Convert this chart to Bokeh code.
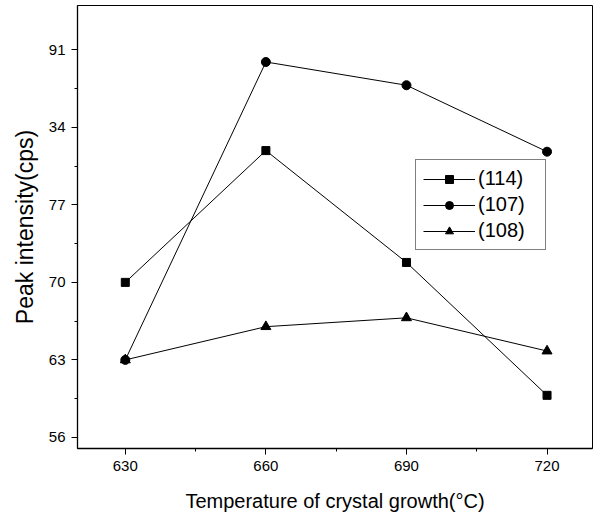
from bokeh.plotting import figure
from bokeh.models import FixedTicker, Range1d, Legend, LegendItem
from bokeh.embed import file_html
from bokeh.resources import INLINE

# Growth temperatures (deg C) and peak intensities for three reflections
temperature = [630, 660, 690, 720]
peak_114 = [70.0, 81.9, 71.8, 59.8]
peak_107 = [63.0, 89.9, 87.8, 81.8]
peak_108 = [63.0, 66.0, 66.8, 63.8]

x_ticks = [630, 660, 690, 720]
x_minor = [645, 675, 705]
y_ticks = [56, 63, 70, 77, 84, 91]
y_minor = [59.5, 66.5, 73.5, 80.5, 87.5]
y_tick_labels = {56: "56", 63: "63", 70: "70", 77: "77", 84: "34", 91: "91"}

FONT = "Liberation Sans"

p = figure(width=593, height=516, output_backend="svg", toolbar_location=None,
           x_range=Range1d(619.8, 729.7), y_range=Range1d(55, 95),
           min_border_left=77, min_border_right=1, min_border_top=5,
           min_border_bottom=68)

p.background_fill_color = "white"
p.border_fill_color = "white"
p.outline_line_color = "black"
p.outline_line_width = 1
p.xgrid.visible = False
p.ygrid.visible = False

for ax in (p.xaxis[0], p.yaxis[0]):
    ax.axis_line_color = "black"
    ax.axis_line_width = 1.3
    ax.major_tick_in = 0
    ax.major_tick_out = 6
    ax.minor_tick_in = 0
    ax.minor_tick_out = 3
    ax.major_tick_line_color = "black"
    ax.minor_tick_line_color = "black"
    ax.major_label_text_font = FONT
    ax.major_label_text_font_size = "15px"
    ax.major_label_text_color = "black"
    ax.axis_label_text_font = FONT
    ax.axis_label_text_font_style = "normal"
    ax.axis_label_text_color = "black"

p.xaxis.ticker = FixedTicker(ticks=x_ticks, minor_ticks=x_minor)
p.yaxis.ticker = FixedTicker(ticks=y_ticks, minor_ticks=y_minor)
p.yaxis.major_label_overrides = y_tick_labels

p.xaxis.axis_label = "Temperature of crystal growth(\u00b0C)"
p.xaxis.axis_label_text_font_size = "20px"
p.xaxis.axis_label_standoff = 16
p.xaxis.major_label_standoff = 6

p.yaxis.axis_label = "Peak intensity(cps)"
p.yaxis.axis_label_text_font_size = "23px"
p.yaxis.axis_label_standoff = 8
p.yaxis.major_label_standoff = 6

l1 = p.line(temperature, peak_114, line_color="black", line_width=1)
m1 = p.scatter(temperature, peak_114, marker="square", size=8,
               fill_color="black", line_color="black")
l2 = p.line(temperature, peak_107, line_color="black", line_width=1)
m2 = p.scatter(temperature, peak_107, marker="circle", size=9,
               fill_color="black", line_color="black")
l3 = p.line(temperature, peak_108, line_color="black", line_width=1)
m3 = p.scatter(temperature, peak_108, marker="triangle", size=10,
               fill_color="black", line_color="black")

legend = Legend(items=[
    LegendItem(label="(114)", renderers=[l1, m1]),
    LegendItem(label="(107)", renderers=[l2, m2]),
    LegendItem(label="(108)", renderers=[l3, m3]),
], location=(338, 198))
legend.border_line_color = "black"
legend.border_line_width = 1
legend.background_fill_color = "white"
legend.background_fill_alpha = 1
legend.label_text_font = FONT
legend.label_text_font_size = "20px"
legend.label_text_color = "black"
legend.glyph_width = 52
legend.glyph_height = 20
legend.label_height = 20
legend.label_width = 60
legend.label_standoff = 3
legend.spacing = 3
legend.padding = 7
legend.margin = 0
p.add_layout(legend, "center")

open("out.html", "w").write(file_html(p, INLINE))
